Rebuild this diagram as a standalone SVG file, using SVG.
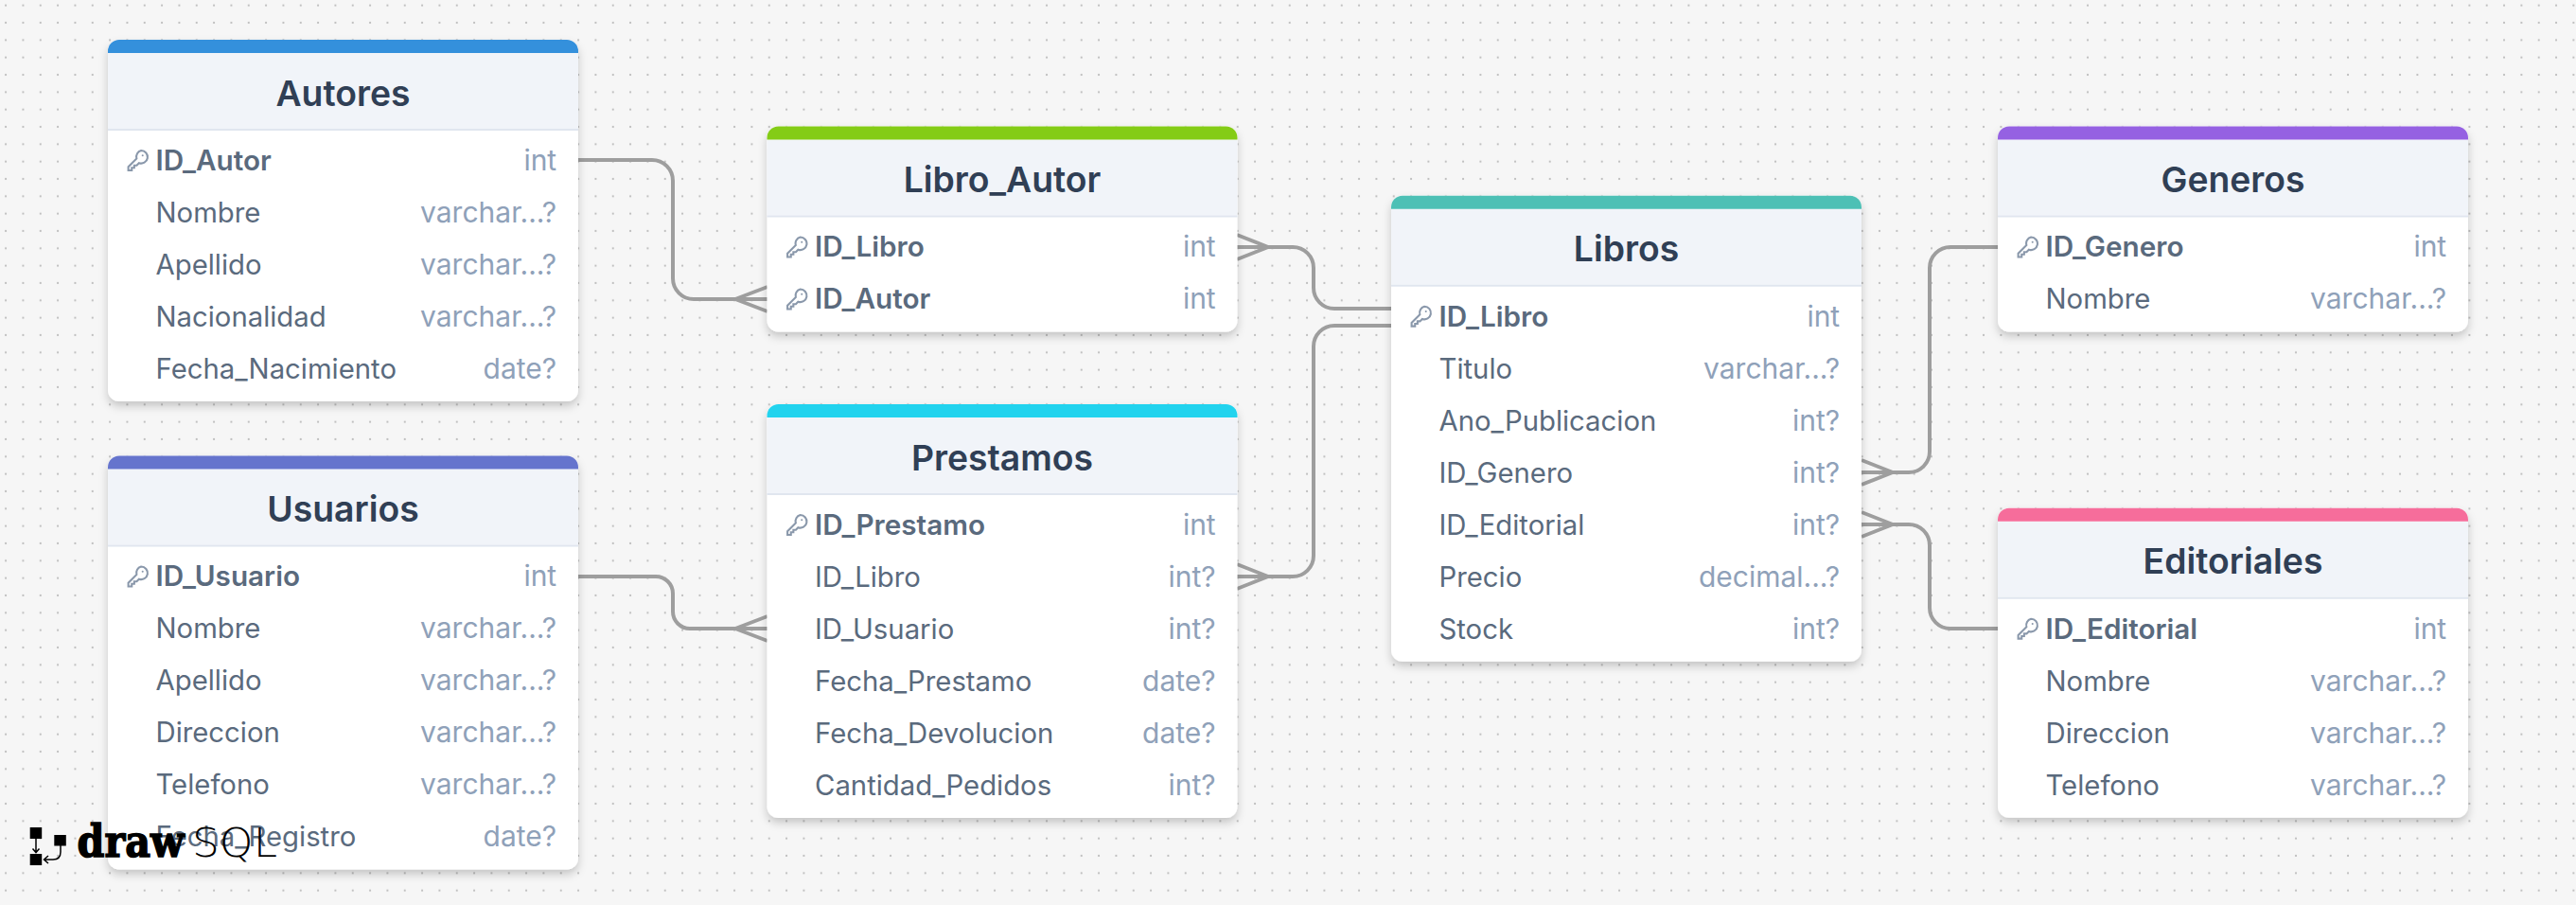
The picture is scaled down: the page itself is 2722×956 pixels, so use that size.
<svg xmlns="http://www.w3.org/2000/svg" width="2722" height="956" viewBox="0 0 2722 956">
<style>
text{font-family:Inter,"Noto Sans","Liberation Sans",sans-serif}
.title{font-size:37.300px;font-weight:600;fill:#303f55;text-anchor:middle}
.col{font-size:29.300px;fill:#5a6a7d}
.pk{font-weight:600;font-size:29.700px}
.type{font-size:30px;fill:#8fa1b9;text-anchor:end}
.body{fill:#fff}
.head{fill:#f1f4f9}
.sep{stroke:#e0e6ef;stroke-width:2}
.conn{fill:none;stroke:#9e9e9e;stroke-width:4}
.key{fill:none;stroke:#8a98ab;stroke-width:2}
</style>
<defs>
<pattern id="dots" x="6.1" y="5.7" width="18.333" height="18.333" patternUnits="userSpaceOnUse"><circle cx="0" cy="0" r="1.1" fill="#bdbdbd"/><circle cx="18.333" cy="0" r="1.1" fill="#bdbdbd"/><circle cx="0" cy="18.333" r="1.1" fill="#bdbdbd"/><circle cx="18.333" cy="18.333" r="1.1" fill="#bdbdbd"/></pattern>
<filter id="shadow" x="-10%" y="-10%" width="120%" height="125%"><feDropShadow dx="0" dy="5" stdDeviation="5" flood-color="#000" flood-opacity="0.2"/></filter>
<symbol id="k" viewBox="0 0 24 24" overflow="visible"><path class="key" d="M15.5 2a6.5 6.5 0 1 1-2.2 12.6L11 17h-2.5v2.5h-2.5v2.500H2.500v-3.500l8.400-8.400A6.500 6.500 0 0 1 15.500 2z"/><circle cx="17" cy="7" r="1" fill="#8a98ab"/></symbol>
</defs>
<rect width="2722" height="956" fill="#f6f6f6"/>
<rect width="2722" height="956" fill="url(#dots)"/>

<g id="connectors">
<path class="conn" d="M611 169H689A22 22 0 0 1 711 191V294A22 22 0 0 0 733 316H811M777 316L811 303M777 316L811 329"/>
<path class="conn" d="M611 609H693A18 18 0 0 1 711 627V646A18 18 0 0 0 729 664H811M777 664L811 651M777 664L811 677"/>
<path class="conn" d="M1307 261H1366A22 22 0 0 1 1388 283V304A22 22 0 0 0 1410 326H1470M1340 261L1307 248M1340 261L1307 274"/>
<path class="conn" d="M1470 344H1410A22 22 0 0 0 1388 366V587A22 22 0 0 1 1366 609H1307M1340 609L1307 596M1340 609L1307 622"/>
<path class="conn" d="M1967 499H2017A22 22 0 0 0 2039 477V283A22 22 0 0 1 2061 261H2111M2000 499L1967 486M2000 499L1967 512"/>
<path class="conn" d="M1967 554H2017A22 22 0 0 1 2039 576V642A22 22 0 0 0 2061 664H2111M2000 554L1967 541M2000 554L1967 567"/>
</g>

<g id="autores" transform="translate(114 42)">
<g filter="url(#shadow)"><rect class="body" width="497" height="382" rx="12"/></g>
<path class="head" d="M0 14H497V94H0z"/><path d="M0 14V12A12 12 0 0 1 12 0H485A12 12 0 0 1 497 12V14z" fill="#3490dc"/><path class="sep" d="M0 95H497"/>
<text class="title" x="248.500" y="69.500">Autores</text>
<use href="#k" x="19" y="115" width="25" height="25"/>
<text class="col pk" x="50.500" y="137.500">ID_Autor</text><text class="type" x="474.200" y="137.500">int</text>
<text class="col" x="50.500" y="192.500">Nombre</text><text class="type" x="474.200" y="192.500">varchar...?</text>
<text class="col" x="50.500" y="247.500">Apellido</text><text class="type" x="474.200" y="247.500">varchar...?</text>
<text class="col" x="50.500" y="302.500">Nacionalidad</text><text class="type" x="474.200" y="302.500">varchar...?</text>
<text class="col" x="50.500" y="357.500">Fecha_Nacimiento</text><text class="type" x="474.200" y="357.500">date?</text>
</g>

<g id="usuarios" transform="translate(114 481.500)">
<g filter="url(#shadow)"><rect class="body" width="497" height="437" rx="12"/></g>
<path class="head" d="M0 14H497V94H0z"/><path d="M0 14V12A12 12 0 0 1 12 0H485A12 12 0 0 1 497 12V14z" fill="#6574cd"/><path class="sep" d="M0 95H497"/>
<text class="title" x="248.500" y="69.500">Usuarios</text>
<use href="#k" x="19" y="115" width="25" height="25"/>
<text class="col pk" x="50.500" y="137.500">ID_Usuario</text><text class="type" x="474.200" y="137.500">int</text>
<text class="col" x="50.500" y="192.500">Nombre</text><text class="type" x="474.200" y="192.500">varchar...?</text>
<text class="col" x="50.500" y="247.500">Apellido</text><text class="type" x="474.200" y="247.500">varchar...?</text>
<text class="col" x="50.500" y="302.500">Direccion</text><text class="type" x="474.200" y="302.500">varchar...?</text>
<text class="col" x="50.500" y="357.500">Telefono</text><text class="type" x="474.200" y="357.500">varchar...?</text>
<text class="col" x="50.500" y="412.500">Fecha_Registro</text><text class="type" x="474.200" y="412.500">date?</text>
</g>

<g id="libro_autor" transform="translate(810.500 133.500)">
<g filter="url(#shadow)"><rect class="body" width="497" height="217" rx="12"/></g>
<path class="head" d="M0 14H497V94H0z"/><path d="M0 14V12A12 12 0 0 1 12 0H485A12 12 0 0 1 497 12V14z" fill="#84cc16"/><path class="sep" d="M0 95H497"/>
<text class="title" x="248.500" y="69.500">Libro_Autor</text>
<use href="#k" x="19" y="115" width="25" height="25"/>
<text class="col pk" x="50.500" y="137.500">ID_Libro</text><text class="type" x="474.200" y="137.500">int</text>
<use href="#k" x="19" y="170" width="25" height="25"/>
<text class="col pk" x="50.500" y="192.500">ID_Autor</text><text class="type" x="474.200" y="192.500">int</text>
</g>

<g id="prestamos" transform="translate(810.500 427)">
<g filter="url(#shadow)"><rect class="body" width="497" height="437" rx="12"/></g>
<path class="head" d="M0 14H497V94H0z"/><path d="M0 14V12A12 12 0 0 1 12 0H485A12 12 0 0 1 497 12V14z" fill="#22d3ee"/><path class="sep" d="M0 95H497"/>
<text class="title" x="248.500" y="69.500">Prestamos</text>
<use href="#k" x="19" y="115" width="25" height="25"/>
<text class="col pk" x="50.500" y="137.500">ID_Prestamo</text><text class="type" x="474.200" y="137.500">int</text>
<text class="col" x="50.500" y="192.500">ID_Libro</text><text class="type" x="474.200" y="192.500">int?</text>
<text class="col" x="50.500" y="247.500">ID_Usuario</text><text class="type" x="474.200" y="247.500">int?</text>
<text class="col" x="50.500" y="302.500">Fecha_Prestamo</text><text class="type" x="474.200" y="302.500">date?</text>
<text class="col" x="50.500" y="357.500">Fecha_Devolucion</text><text class="type" x="474.200" y="357.500">date?</text>
<text class="col" x="50.500" y="412.500">Cantidad_Pedidos</text><text class="type" x="474.200" y="412.500">int?</text>
</g>

<g id="libros" transform="translate(1470 206.700)">
<g filter="url(#shadow)"><rect class="body" width="497" height="492" rx="12"/></g>
<path class="head" d="M0 14H497V94H0z"/><path d="M0 14V12A12 12 0 0 1 12 0H485A12 12 0 0 1 497 12V14z" fill="#4dc0b5"/><path class="sep" d="M0 95H497"/>
<text class="title" x="248.500" y="69.500">Libros</text>
<use href="#k" x="19" y="115" width="25" height="25"/>
<text class="col pk" x="50.500" y="138">ID_Libro</text><text class="type" x="474.200" y="138">int</text>
<text class="col" x="50.500" y="193">Titulo</text><text class="type" x="474.200" y="193">varchar...?</text>
<text class="col" x="50.500" y="248">Ano_Publicacion</text><text class="type" x="474.200" y="248">int?</text>
<text class="col" x="50.500" y="303">ID_Genero</text><text class="type" x="474.200" y="303">int?</text>
<text class="col" x="50.500" y="358">ID_Editorial</text><text class="type" x="474.200" y="358">int?</text>
<text class="col" x="50.500" y="413">Precio</text><text class="type" x="474.200" y="413">decimal...?</text>
<text class="col" x="50.500" y="468">Stock</text><text class="type" x="474.200" y="468">int?</text>
</g>

<g id="generos" transform="translate(2111 133.500)">
<g filter="url(#shadow)"><rect class="body" width="497" height="217" rx="12"/></g>
<path class="head" d="M0 14H497V94H0z"/><path d="M0 14V12A12 12 0 0 1 12 0H485A12 12 0 0 1 497 12V14z" fill="#9561e2"/><path class="sep" d="M0 95H497"/>
<text class="title" x="248.500" y="69.500">Generos</text>
<use href="#k" x="19" y="115" width="25" height="25"/>
<text class="col pk" x="50.500" y="137.500">ID_Genero</text><text class="type" x="474.200" y="137.500">int</text>
<text class="col" x="50.500" y="192.500">Nombre</text><text class="type" x="474.200" y="192.500">varchar...?</text>
</g>

<g id="editoriales" transform="translate(2111 536.700)">
<g filter="url(#shadow)"><rect class="body" width="497" height="327" rx="12"/></g>
<path class="head" d="M0 14H497V94H0z"/><path d="M0 14V12A12 12 0 0 1 12 0H485A12 12 0 0 1 497 12V14z" fill="#f66d9b"/><path class="sep" d="M0 95H497"/>
<text class="title" x="248.500" y="69.500">Editoriales</text>
<use href="#k" x="19" y="115" width="25" height="25"/>
<text class="col pk" x="50.500" y="138">ID_Editorial</text><text class="type" x="474.200" y="138">int</text>
<text class="col" x="50.500" y="193">Nombre</text><text class="type" x="474.200" y="193">varchar...?</text>
<text class="col" x="50.500" y="248">Direccion</text><text class="type" x="474.200" y="248">varchar...?</text>
<text class="col" x="50.500" y="303">Telefono</text><text class="type" x="474.200" y="303">varchar...?</text>
</g>

<g id="logo">
<rect x="31.700" y="874" width="12.500" height="12" fill="#000"/>
<rect x="57.300" y="882" width="12.500" height="11.500" fill="#000"/>
<rect x="31.700" y="902" width="12.500" height="12" fill="#000"/>
<path d="M38 886V900M34.500 896.500L38 900.500L41.500 896.500M64 893V900Q64 908 56 908H47M51 904L46.500 908L51 912" fill="none" stroke="#000" stroke-width="1.500"/>
<text x="81.500" y="905" textLength="113" lengthAdjust="spacingAndGlyphs" style="font-family:'DejaVu Serif',serif;font-weight:700;font-size:46px;fill:#000;stroke:#000;stroke-width:1.500px">draw</text>
<text x="203" y="905" textLength="90" lengthAdjust="spacingAndGlyphs" style="font-family:'DejaVu Sans',sans-serif;font-weight:200;font-size:43px;fill:#000">SQL</text>
</g>
</svg>
